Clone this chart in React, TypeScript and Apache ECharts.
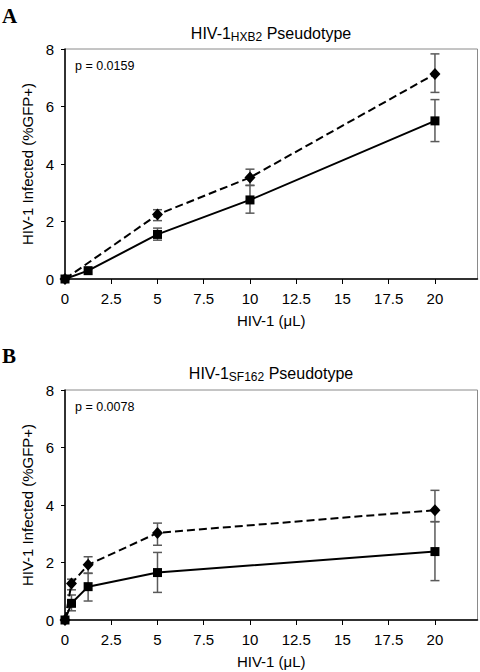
import React, { useEffect, useRef } from "react";
import * as echarts from "echarts";

const X_TICKS = [0, 2.5, 5, 7.5, 10, 12.5, 15, 17.5, 20];
const Y_TICKS = [0, 2, 4, 6, 8];

// Panel A (HXB2)
const A_DIA_X = [0, 5, 10, 20];
const A_DIA_Y = [0, 2.24, 3.53, 7.13];
const A_DIA_LO = [null, 2.03, 3.25, 6.49];
const A_DIA_HI = [null, 2.41, 3.82, 7.83];
const A_SQ_X = [0, 1.25, 5, 10, 20];
const A_SQ_Y = [0, 0.29, 1.55, 2.75, 5.5];
const A_SQ_LO = [null, null, 1.35, 2.29, 4.78];
const A_SQ_HI = [null, null, 1.77, 3.26, 6.24];

// Panel B (SF162)
const B_DIA_X = [0, 0.35, 1.25, 5, 20];
const B_DIA_Y = [0, 1.27, 1.92, 3.03, 3.82];
const B_DIA_LO = [null, 1.05, 1.63, 2.6, 3.42];
const B_DIA_HI = [null, 1.42, 2.2, 3.37, 4.51];
const B_SQ_X = [0, 0.35, 1.25, 5, 20];
const B_SQ_Y = [0, 0.58, 1.16, 1.65, 2.38];
const B_SQ_LO = [null, 0.32, 0.66, 0.96, 1.37];
const B_SQ_HI = [null, 0.87, 1.62, 2.35, 3.42];

const TITLE_A = ["HIV-1", "HXB2", " Pseudotype"];
const TITLE_B = ["HIV-1", "SF162", " Pseudotype"];
const P_A = "p = 0.0159";
const P_B = "p = 0.0078";
const X_NAME = "HIV-1 (\u03bcL)";
const Y_NAME = "HIV-1 Infected (%GFP+)";

const FONT = "Liberation Sans, Arial, Helvetica, sans-serif";

function pairs(xs: number[], ys: number[]) {
  return xs.map((x, i) => [x, ys[i]]);
}
function errData(xs: number[], lo: (number | null)[], hi: (number | null)[]) {
  const out: number[][] = [];
  xs.forEach((x, i) => {
    if (lo[i] != null && hi[i] != null) out.push([x, lo[i] as number, hi[i] as number]);
  });
  return out;
}

function errSeries(idx: number, data: number[][]) {
  return {
    type: "custom",
    xAxisIndex: idx,
    yAxisIndex: idx,
    z: 1,
    clip: false,
    encode: { x: 0, y: [1, 2] },
    data,
    renderItem: (params: any, api: any) => {
      const x = api.value(0);
      const lo = api.coord([x, api.value(1)]);
      const hi = api.coord([x, api.value(2)]);
      const w = 4.5;
      const style = { stroke: "#5a5a5a", lineWidth: 1.5, fill: null };
      return {
        type: "group",
        children: [
          { type: "line", shape: { x1: lo[0], y1: lo[1], x2: hi[0], y2: hi[1] }, style },
          { type: "line", shape: { x1: lo[0] - w, y1: lo[1], x2: lo[0] + w, y2: lo[1] }, style },
          { type: "line", shape: { x1: hi[0] - w, y1: hi[1], x2: hi[0] + w, y2: hi[1] }, style },
        ],
      };
    },
  };
}

function lineSeries(idx: number, data: number[][], dashed: boolean) {
  return {
    type: "line",
    xAxisIndex: idx,
    yAxisIndex: idx,
    z: 3,
    clip: false,
    data,
    symbol: dashed ? "diamond" : "rect",
    symbolSize: dashed ? [11, 12] : [9, 9],
    itemStyle: { color: "#000" },
    lineStyle: { color: "#000", width: 2, type: dashed ? [8, 4] : "solid" },
  };
}

function xAxis(idx: number) {
  return {
    type: "value",
    gridIndex: idx,
    min: 0,
    max: 22.3,
    name: X_NAME,
    nameLocation: "middle",
    nameGap: 34,
    nameTextStyle: { color: "#000", fontSize: 15, fontFamily: FONT },
    axisLine: { show: true, lineStyle: { color: "#000", width: 1.5 } },
    axisTick: { show: true, length: 5, customValues: X_TICKS, lineStyle: { color: "#000", width: 1 } },
    axisLabel: {
      customValues: X_TICKS,
      color: "#000",
      fontSize: 15,
      fontFamily: FONT,
      margin: 12,
      formatter: (v: number) => String(v),
    },
    splitLine: { show: false },
  };
}

function yAxis(idx: number) {
  return {
    type: "value",
    gridIndex: idx,
    min: Y_TICKS[0],
    max: Y_TICKS[Y_TICKS.length - 1],
    interval: 2,
    name: Y_NAME,
    nameLocation: "middle",
    nameGap: 29,
    nameTextStyle: { color: "#000", fontSize: 15, fontFamily: FONT },
    axisLine: { show: true, lineStyle: { color: "#000", width: 1.5 } },
    axisTick: { show: true, length: 4, lineStyle: { color: "#000", width: 1 } },
    axisLabel: { color: "#000", fontSize: 15, fontFamily: FONT, margin: 11 },
    splitLine: { show: false },
  };
}

function titleText(parts: string[], x: number, y: number) {
  return {
    type: "text",
    x,
    y,
    style: {
      text: `{n|${parts[0]}}{s|${parts[1]}}{n|${parts[2]}}`,
      align: "center",
      verticalAlign: "middle",
      fill: "#000",
      fontFamily: FONT,
      rich: {
        n: { fontSize: 16, lineHeight: 19, fontFamily: FONT, color: "#000" },
        s: { fontSize: 12, lineHeight: 12, verticalAlign: "bottom", fontFamily: FONT, color: "#000" },
      },
    },
  };
}

export default function App() {
  const ref = useRef<HTMLDivElement>(null);
  useEffect(() => {
    if (!ref.current) return;
    const chart = echarts.init(ref.current, null, { renderer: "svg" });
    chart.setOption({
      animation: false,
      backgroundColor: "#fff",
      grid: [
        { left: 65, top: 49, width: 412.5, height: 230, show: true, borderColor: "#8a8a8a", borderWidth: 1 },
        { left: 65, top: 390, width: 412.5, height: 230, show: true, borderColor: "#8a8a8a", borderWidth: 1 },
      ],
      xAxis: [xAxis(0), xAxis(1)],
      yAxis: [yAxis(0), yAxis(1)],
      series: [
        errSeries(0, errData(A_DIA_X, A_DIA_LO, A_DIA_HI)),
        errSeries(0, errData(A_SQ_X, A_SQ_LO, A_SQ_HI)),
        lineSeries(0, pairs(A_DIA_X, A_DIA_Y), true),
        lineSeries(0, pairs(A_SQ_X, A_SQ_Y), false),
        errSeries(1, errData(B_DIA_X, B_DIA_LO, B_DIA_HI)),
        errSeries(1, errData(B_SQ_X, B_SQ_LO, B_SQ_HI)),
        lineSeries(1, pairs(B_DIA_X, B_DIA_Y), true),
        lineSeries(1, pairs(B_SQ_X, B_SQ_Y), false),
      ],
      graphic: [
        {
          type: "text",
          left: 2,
          top: 5,
          style: { text: "A", fontSize: 21, fontWeight: "bold", fontFamily: "Liberation Serif, Times New Roman, serif", fill: "#000" },
        },
        {
          type: "text",
          left: 2,
          top: 345,
          style: { text: "B", fontSize: 21, fontWeight: "bold", fontFamily: "Liberation Serif, Times New Roman, serif", fill: "#000" },
        },
        titleText(TITLE_A, 271, 33),
        titleText(TITLE_B, 271, 373),
        {
          type: "text",
          x: 75,
          y: 66,
          style: { text: P_A, fontSize: 12.5, fontFamily: FONT, fill: "#000", verticalAlign: "middle" },
        },
        {
          type: "text",
          x: 75,
          y: 407,
          style: { text: P_B, fontSize: 12.5, fontFamily: FONT, fill: "#000", verticalAlign: "middle" },
        },
      ],
    });
    return () => chart.dispose();
  }, []);
  return (
    <div
      ref={ref}
      style={{ position: "fixed", left: 0, top: 0, width: 480, height: 672, background: "#fff" }}
    />
  );
}
